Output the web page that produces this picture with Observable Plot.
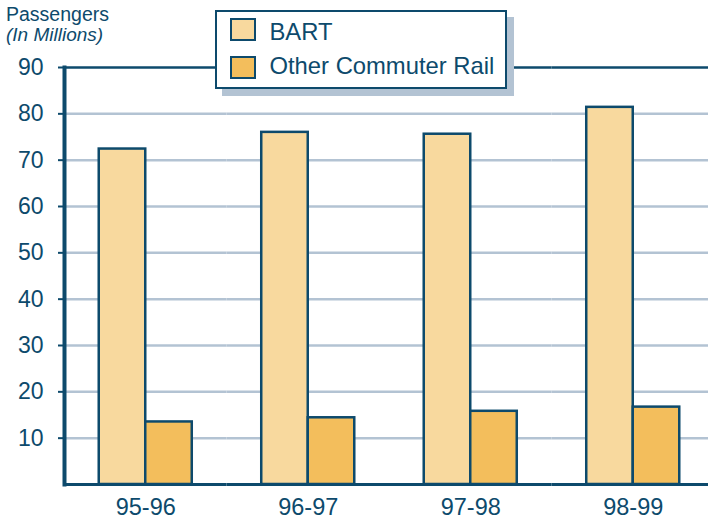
<!DOCTYPE html>
<html><head><meta charset="utf-8">
<script src="https://cdn.jsdelivr.net/npm/d3@7"></script>
<script src="https://cdn.jsdelivr.net/npm/@observablehq/plot@0.6"></script>
<style>
html,body{margin:0;padding:0;background:#fff;overflow:hidden}
#wrap{position:relative;width:708px;height:520px;font-family:"Liberation Sans",Arial,sans-serif;color:#0d4a6c}
#title{position:absolute;left:6px;top:4px;font-size:19.5px;line-height:20px;z-index:2}
#title i{font-size:19px}
#legend{position:absolute;left:215px;top:10px;width:292px;height:79px;box-sizing:border-box;border:2.5px solid #0d4a6c;background:#fff;box-shadow:7px 7px 0 #b3c3d3;z-index:2}
.sw{position:absolute;left:12.5px;width:26px;height:23px;box-sizing:border-box;border:2.5px solid #0d4a6c}
.lt{position:absolute;left:52.5px;font-size:23.8px;line-height:24px;white-space:nowrap}
</style></head>
<body>
<div id="wrap">
  <div id="title">Passengers<br><i>(In Millions)</i></div>
  <div id="legend"></div>
  <div id="chart"></div>
</div>
<script>
const categories = ["95-96", "96-97", "97-98", "98-99"];
const series = ["BART", "Other Commuter Rail"];
const bart = [72.4, 76.0, 75.6, 81.4];
const other = [13.5, 14.4, 15.8, 16.7];
const yTicks = [10, 20, 30, 40, 50, 60, 70, 80, 90];
const colors = ["#f8d99e", "#f3be5c"];
const dark = "#0d4a6c";

const data = categories.flatMap((c, i) => [
  {cat: c, series: series[0], value: bart[i]},
  {cat: c, series: series[1], value: other[i]}
]);

// legend
const legend = document.getElementById("legend");
const swTops = [5.8, 43.5], txTops = [8.2, 41.5];
series.forEach((s, i) => {
  const sw = document.createElement("div");
  sw.className = "sw"; sw.style.top = swTops[i] + "px"; sw.style.background = colors[i];
  legend.appendChild(sw);
  const t = document.createElement("div");
  t.className = "lt"; t.style.top = txTops[i] + "px"; t.textContent = s;
  legend.appendChild(t);
});

const chart = Plot.plot({
  width: 708, height: 520,
  marginLeft: 63, marginRight: 0, marginTop: 67, marginBottom: 36,
  style: {fontFamily: '"Liberation Sans", Arial, sans-serif', color: dark, background: "#fff"},
  fx: {domain: categories, range: [64, 714], padding: 0, round: false, label: null},
  x: {domain: series, padding: 0, paddingOuter: 0.747, round: false, axis: null},
  y: {domain: [0, 90], axis: null},
  color: {domain: series, range: colors},
  marks: [
    Plot.ruleY(yTicks.slice(0, -1), {stroke: "#b3c3d3", strokeWidth: 2.5}),
    Plot.barY(data, {fx: "cat", x: "series", y: "value", fill: "series", stroke: dark, strokeWidth: 2.5}),
    Plot.ruleY([90], {stroke: dark, strokeWidth: 2.5}),
    Plot.ruleY([0], {stroke: dark, strokeWidth: 3}),
    Plot.frame({anchor: "left", facet: "super", stroke: dark, strokeWidth: 4}),
    Plot.axisY({ticks: yTicks, tickSize: 6, tickPadding: 15, fontSize: 23, stroke: dark, strokeWidth: 2, fill: dark, label: null}),
    Plot.axisFx({anchor: "bottom", tickSize: 0, tickPadding: 14, fontSize: 23.5, fill: dark, label: null})
  ]
});
document.getElementById("chart").appendChild(chart);
</script>
</body></html>
